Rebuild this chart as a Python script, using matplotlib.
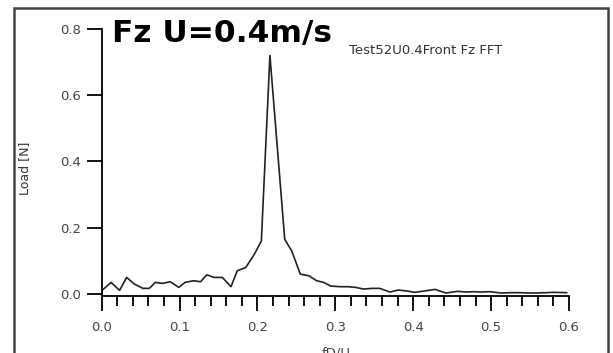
import matplotlib.pyplot as plt
from matplotlib.patches import Rectangle
from matplotlib.ticker import MultipleLocator

# FFT spectrum
freq = [0.000, 0.012, 0.023, 0.032, 0.042, 0.053, 0.061, 0.069, 0.078, 0.088,
        0.099, 0.107, 0.118, 0.127, 0.135, 0.144, 0.155, 0.166, 0.174, 0.185,
        0.196, 0.205, 0.216, 0.235, 0.244, 0.255, 0.266, 0.276, 0.285, 0.294,
        0.307, 0.316, 0.326, 0.336, 0.347, 0.357, 0.370, 0.381, 0.392, 0.402,
        0.417, 0.428, 0.442, 0.457, 0.468, 0.478, 0.488, 0.498, 0.513, 0.525,
        0.537, 0.548, 0.558, 0.570, 0.580, 0.597]
load = [0.010, 0.035, 0.011, 0.050, 0.030, 0.017, 0.017, 0.035, 0.032, 0.037,
        0.020, 0.035, 0.040, 0.037, 0.058, 0.050, 0.050, 0.022, 0.070, 0.080,
        0.120, 0.160, 0.720, 0.165, 0.130, 0.060, 0.055, 0.040, 0.035, 0.024,
        0.022, 0.022, 0.020, 0.015, 0.017, 0.017, 0.006, 0.012, 0.009, 0.005,
        0.010, 0.014, 0.003, 0.008, 0.006, 0.007, 0.006, 0.007, 0.003, 0.004,
        0.004, 0.003, 0.003, 0.004, 0.005, 0.004]

xticks = [0.0, 0.1, 0.2, 0.3, 0.4, 0.5, 0.6]
yticks = [0.0, 0.2, 0.4, 0.6, 0.8]


def main():
    fig = plt.figure(figsize=(6.13, 3.53), dpi=100)
    ax = fig.add_axes([0.1659, 0.1615, 0.7623, 0.7564])

    ax.plot(freq, load, color='#222222', lw=1.2)

    ax.set_xlim(0, 0.6)
    ax.set_ylim(-0.006, 0.8)
    ax.set_xticks(xticks)
    ax.set_xticklabels(['%.1f' % v for v in xticks])
    ax.set_yticks(yticks)
    ax.set_yticklabels(['%.1f' % v for v in yticks])
    ax.xaxis.set_minor_locator(MultipleLocator(0.02))

    for s in ['top', 'right']:
        ax.spines[s].set_visible(False)
    for s in ['left', 'bottom']:
        ax.spines[s].set_linewidth(1.3)
        ax.spines[s].set_color('black')
    ax.spines['left'].set_bounds(-0.006, 0.8)

    ax.tick_params(axis='x', which='major', direction='out', length=11,
                   width=1.3, labelsize=9.5, pad=7, labelcolor='#444444')
    ax.tick_params(axis='x', which='minor', direction='out', length=7.5,
                   width=1.3)
    ax.tick_params(axis='y', which='major', direction='out', length=11,
                   width=1.3, labelsize=9.5, pad=4, labelcolor='#444444')

    # headings
    fig.text(112 / 613, 1 - 42 / 353, 'Fz U=0.4m/s', fontsize=22.5,
             fontweight='bold', ha='left', va='baseline')
    fig.text(349 / 613, 1 - 54 / 353, 'Test52U0.4Front Fz FFT', fontsize=9.5,
             color='#333333', ha='left', va='baseline')

    # axis titles
    fig.text(25 / 613, 1 - 168 / 353, 'Load [N]', fontsize=9, rotation=90,
             ha='center', va='center', color='#333333')
    fig.text(336 / 613, 1 - 347 / 353, 'fD/U', fontsize=9.5, ha='center',
             va='top', color='#444444')

    # outer frame
    fig.patches.append(Rectangle((14 / 613, -0.05), (608 - 14) / 613,
                                 1.05 - 8 / 353, transform=fig.transFigure,
                                 fill=False, lw=1.8, edgecolor='#444444'))

    plt.savefig('out.png', dpi=100)
    plt.close()


if __name__ == "__main__":
    main()
